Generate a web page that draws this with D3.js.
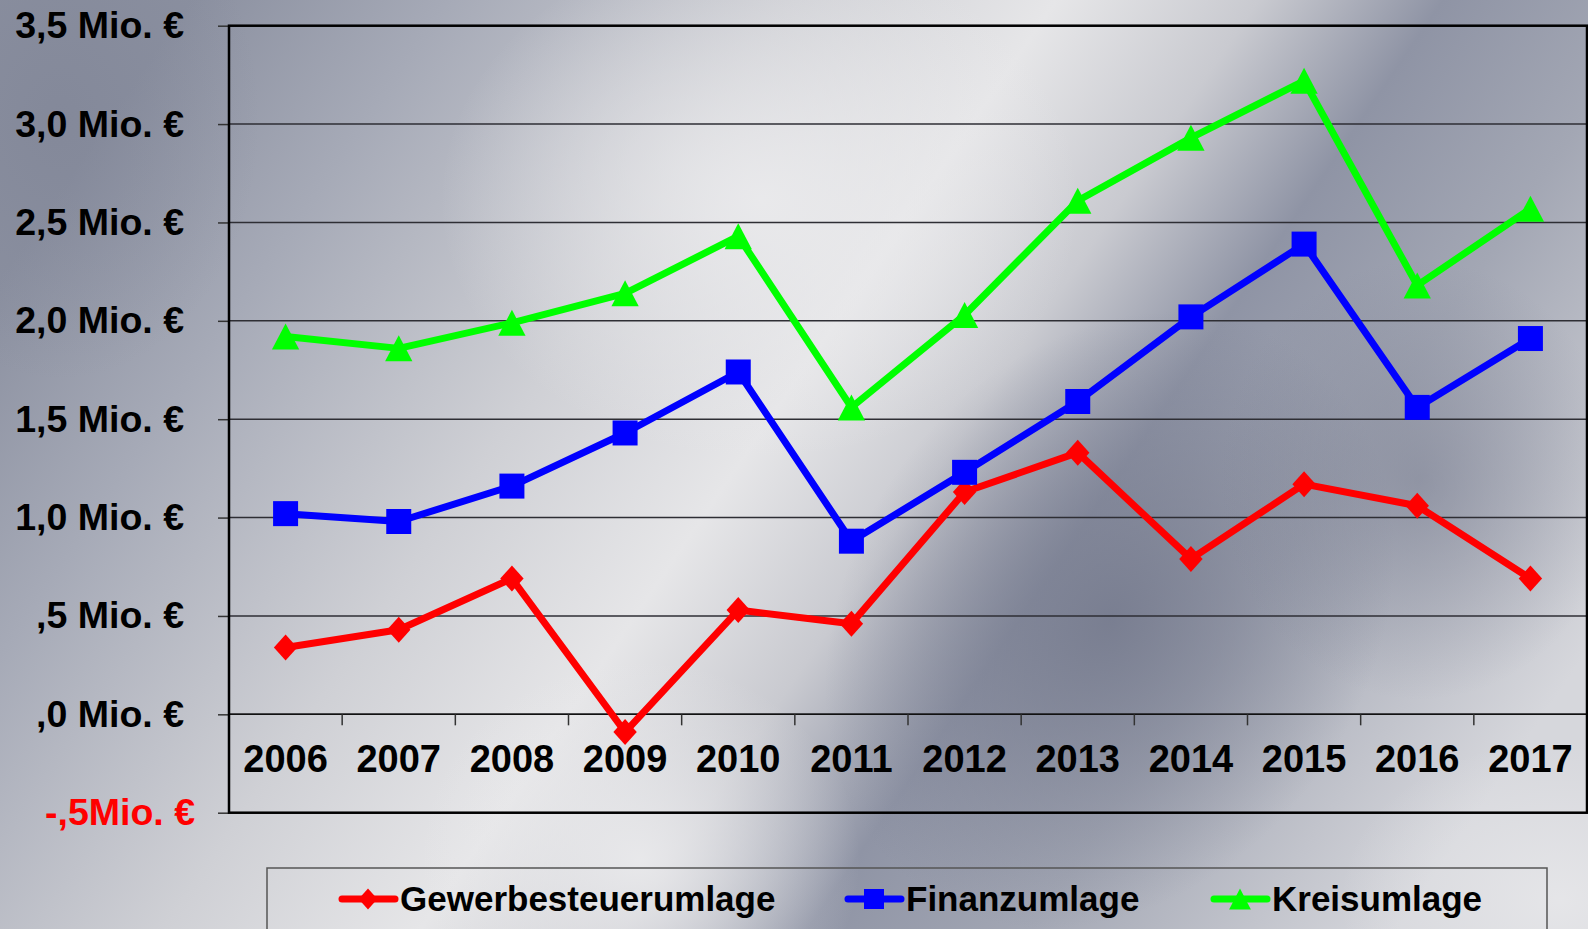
<!DOCTYPE html>
<html>
<head>
<meta charset="utf-8">
<script src="https://cdnjs.cloudflare.com/ajax/libs/d3/7.8.5/d3.min.js"></script>
<style>
  html, body { margin: 0; padding: 0; overflow: hidden; }
  svg { display: block; font-family: "Liberation Sans", Arial, sans-serif; font-weight: bold; }
</style>
</head>
<body>
<svg id="chart" width="1588" height="929"></svg>
<script>
var years = ["2006", "2007", "2008", "2009", "2010", "2011", "2012", "2013", "2014", "2015", "2016", "2017"];
var gewerbesteuerumlage = [0.34, 0.43, 0.69, -0.09, 0.53, 0.46, 1.13, 1.33, 0.79, 1.17, 1.06, 0.69];
var finanzumlage = [1.02, 0.98, 1.16, 1.43, 1.74, 0.88, 1.23, 1.59, 2.02, 2.39, 1.56, 1.91];
var kreisumlage = [1.92, 1.86, 1.99, 2.14, 2.43, 1.56, 2.03, 2.61, 2.93, 3.22, 2.18, 2.57];
var yTicks = [-0.5, 0, 0.5, 1.0, 1.5, 2.0, 2.5, 3.0, 3.5];
var yTickLabels = ["-,5Mio. €", ",0 Mio. €", ",5 Mio. €", "1,0 Mio. €", "1,5 Mio. €", "2,0 Mio. €", "2,5 Mio. €", "3,0 Mio. €", "3,5 Mio. €"];
var seriesNames = ["Gewerbesteuerumlage", "Finanzumlage", "Kreisumlage"];

var width = 1588, height = 929;
var plot = {left: 229, right: 1587, top: 25.7, bottom: 812.7};

var svg = d3.select("#chart");
var defs = svg.append("defs");

// metallic background
var bg = defs.append("linearGradient").attr("id", "bg")
    .attr("x1", "0").attr("y1", "0.3").attr("x2", "1").attr("y2", "0.7");
[["0", "#8b90a0"], ["0.14", "#a6aab7"], ["0.33", "#cfd0d5"], ["0.47", "#e6e6e8"],
 ["0.58", "#c9cad0"], ["0.68", "#8f94a5"], ["0.8", "#a3a7b4"], ["0.92", "#c2c4cc"], ["1", "#d6d7dc"]]
    .forEach(function (s) { bg.append("stop").attr("offset", s[0]).attr("stop-color", s[1]); });

var dark = defs.append("radialGradient").attr("id", "dark")
    .attr("cx", "0.5").attr("cy", "0.5").attr("r", "0.5");
dark.append("stop").attr("offset", "0").attr("stop-color", "#767b8e").attr("stop-opacity", 0.9);
dark.append("stop").attr("offset", "1").attr("stop-color", "#767b8e").attr("stop-opacity", 0);

var light = defs.append("radialGradient").attr("id", "light")
    .attr("cx", "0.5").attr("cy", "0.5").attr("r", "0.5");
light.append("stop").attr("offset", "0").attr("stop-color", "#ebebed").attr("stop-opacity", 0.9);
light.append("stop").attr("offset", "1").attr("stop-color", "#ebebed").attr("stop-opacity", 0);

svg.append("rect").attr("width", width).attr("height", height).attr("fill", "url(#bg)");
svg.append("ellipse").attr("cx", 1110).attr("cy", 620).attr("rx", 260).attr("ry", 330)
    .attr("transform", "rotate(35 1110 620)").attr("fill", "url(#dark)");
svg.append("ellipse").attr("cx", 1420).attr("cy", 480).attr("rx", 200).attr("ry", 220).attr("fill", "url(#dark)").attr("opacity", 0.6);
svg.append("ellipse").attr("cx", 760).attr("cy", 200).attr("rx", 320).attr("ry", 260).attr("fill", "url(#light)");
svg.append("ellipse").attr("cx", 640).attr("cy", 860).attr("rx", 220).attr("ry", 200).attr("fill", "url(#light)");
svg.append("ellipse").attr("cx", 1560).attr("cy", 900).attr("rx", 220).attr("ry", 160).attr("fill", "url(#light)").attr("opacity", 0.8);
svg.append("ellipse").attr("cx", 60).attr("cy", 120).attr("rx", 200).attr("ry", 260).attr("fill", "url(#dark)").attr("opacity", 0.4);

// scales
var x = d3.scaleBand().domain(years).range([plot.left, plot.right]).padding(0);
var y = d3.scaleLinear().domain([-0.5, 3.5]).range([plot.bottom, plot.top]);

// gridlines
svg.append("g").selectAll("line").data(yTicks).join("line")
    .attr("x1", plot.left).attr("x2", plot.right)
    .attr("y1", function (d) { return y(d); }).attr("y2", function (d) { return y(d); })
    .attr("stroke", "#2e2e34").attr("stroke-width", 1.5);

// y axis
var yAxis = d3.axisLeft(y).tickValues(yTicks).tickSize(11).tickPadding(34)
    .tickFormat(function (d, i) { return yTickLabels[i]; });
var yg = svg.append("g").attr("transform", "translate(" + plot.left + ",0)").call(yAxis);
yg.select(".domain").remove();
yg.selectAll(".tick line").attr("stroke", "#333").attr("stroke-width", 1.5);
yg.selectAll(".tick text")
    .attr("font-size", 37.5).attr("font-weight", "bold")
    .attr("font-family", "'Liberation Sans', Arial, sans-serif")
    .attr("fill", function (d) { return d < 0 ? "#ff0000" : "#000"; })
    .attr("dx", function (d) { return d < 0 ? 11 : 0; });

// x axis at zero
var y0 = y(0);
var xg = svg.append("g");
xg.append("line").attr("x1", plot.left).attr("x2", plot.right).attr("y1", y0).attr("y2", y0)
    .attr("stroke", "#111").attr("stroke-width", 1.5);
xg.selectAll(".xtick").data(years.slice(1)).join("line")
    .attr("x1", function (d) { return x(d); }).attr("x2", function (d) { return x(d); })
    .attr("y1", y0).attr("y2", y0 + 11)
    .attr("stroke", "#333").attr("stroke-width", 1.5);
xg.selectAll("text").data(years).join("text")
    .attr("x", function (d) { return x(d) + x.bandwidth() / 2; })
    .attr("y", y0 + 58)
    .attr("text-anchor", "middle").attr("font-size", 38).attr("fill", "#000")
    .text(function (d) { return d; });

// plot frame
svg.append("rect").attr("x", plot.left).attr("y", plot.top)
    .attr("width", plot.right - plot.left).attr("height", plot.bottom - plot.top)
    .attr("fill", "none").attr("stroke", "#000").attr("stroke-width", 2.5);

// markers
function diamond(s) { return "M0," + (-s) + "L" + (s * 0.9) + ",0L0," + s + "L" + (-s * 0.9) + ",0Z"; }
function square(s) { return "M" + (-s) + "," + (-s) + "H" + s + "V" + s + "H" + (-s) + "Z"; }
function triangle(s) { return "M0," + (-s) + "L" + (s * 1.05) + "," + s + "L" + (-s * 1.05) + "," + s + "Z"; }

var series = [
    {name: seriesNames[0], values: gewerbesteuerumlage, color: "#ff0000", marker: diamond, size: 13},
    {name: seriesNames[1], values: finanzumlage, color: "#0000ff", marker: square, size: 12.5},
    {name: seriesNames[2], values: kreisumlage, color: "#00ff00", marker: triangle, size: 13}
];

var line = d3.line()
    .x(function (d, i) { return x(years[i]) + x.bandwidth() / 2; })
    .y(function (d) { return y(d); });

series.forEach(function (s) {
    var g = svg.append("g");
    g.append("path").attr("d", line(s.values)).attr("fill", "none")
        .attr("stroke", s.color).attr("stroke-width", 7).attr("stroke-linejoin", "round");
    g.selectAll("path.m").data(s.values).join("path").attr("class", "m")
        .attr("transform", function (d, i) {
            return "translate(" + (x(years[i]) + x.bandwidth() / 2) + "," + y(d) + ")";
        })
        .attr("d", s.marker(s.size)).attr("fill", s.color);
});

// legend
var legend = svg.append("g");
legend.append("rect").attr("x", 267).attr("y", 868).attr("width", 1280).attr("height", 100)
    .attr("fill", "none").attr("stroke", "#555").attr("stroke-width", 1.5);
var legendX = [339, 845, 1211];
series.forEach(function (s, i) {
    var lx = legendX[i], ly = 899;
    legend.append("line").attr("x1", lx + 3).attr("x2", lx + 56).attr("y1", ly).attr("y2", ly)
        .attr("stroke", s.color).attr("stroke-width", 7).attr("stroke-linecap", "round");
    legend.append("path").attr("transform", "translate(" + (lx + 29) + "," + ly + ")")
        .attr("d", s.marker(s.size * 0.8)).attr("fill", s.color);
    legend.append("text").attr("x", lx + 61).attr("y", ly + 12)
        .attr("font-size", 35).attr("fill", "#000").text(s.name);
});
</script>
</body>
</html>
